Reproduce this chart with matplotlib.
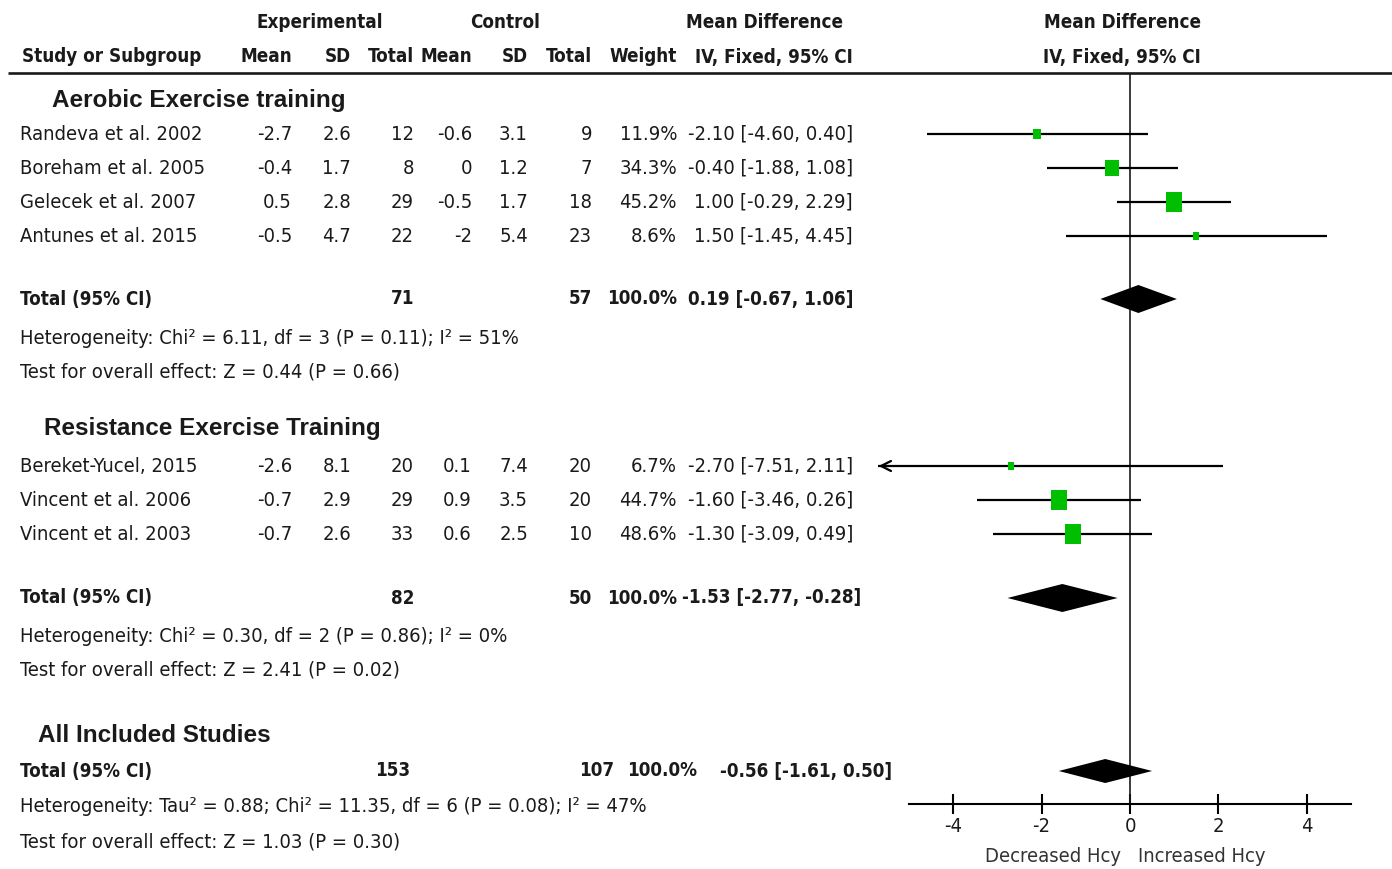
import matplotlib
matplotlib.use("Agg")
import matplotlib.pyplot as plt
import numpy as np

# ----- data -----
aer_studies = ["Randeva et al. 2002", "Boreham et al. 2005", "Gelecek et al. 2007", "Antunes et al. 2015"]
aer_exp_mean = [-2.7, -0.4, 0.5, -0.5]
aer_exp_sd = [2.6, 1.7, 2.8, 4.7]
aer_exp_n = [12, 8, 29, 22]
aer_ctl_mean = [-0.6, 0, -0.5, -2]
aer_ctl_sd = [3.1, 1.2, 1.7, 5.4]
aer_ctl_n = [9, 7, 18, 23]
aer_weight = [11.9, 34.3, 45.2, 8.6]
aer_md = [-2.10, -0.40, 1.00, 1.50]
aer_lo = [-4.60, -1.88, -0.29, -1.45]
aer_hi = [0.40, 1.08, 2.29, 4.45]

res_studies = ["Bereket-Yucel, 2015", "Vincent et al. 2006", "Vincent et al. 2003"]
res_exp_mean = [-2.6, -0.7, -0.7]
res_exp_sd = [8.1, 2.9, 2.6]
res_exp_n = [20, 29, 33]
res_ctl_mean = [0.1, 0.9, 0.6]
res_ctl_sd = [7.4, 3.5, 2.5]
res_ctl_n = [20, 20, 10]
res_weight = [6.7, 44.7, 48.6]
res_md = [-2.70, -1.60, -1.30]
res_lo = [-7.51, -3.46, -3.09]
res_hi = [2.11, 0.26, 0.49]

# pooled: (exp total, ctl total, weight, md, lo, hi)
aer_total = (71, 57, 100.0, 0.19, -0.67, 1.06)
res_total = (82, 50, 100.0, -1.53, -2.77, -0.28)
all_total = (153, 107, 100.0, -0.56, -1.61, 0.50)

aer_het = "Heterogeneity: Chi\u00b2 = 6.11, df = 3 (P = 0.11); I\u00b2 = 51%"
aer_test = "Test for overall effect: Z = 0.44 (P = 0.66)"
res_het = "Heterogeneity: Chi\u00b2 = 0.30, df = 2 (P = 0.86); I\u00b2 = 0%"
res_test = "Test for overall effect: Z = 2.41 (P = 0.02)"
all_het = "Heterogeneity: Tau\u00b2 = 0.88; Chi\u00b2 = 11.35, df = 6 (P = 0.08); I\u00b2 = 47%"
all_test = "Test for overall effect: Z = 1.03 (P = 0.30)"

ticks = [-4, -2, 0, 2, 4]

# ----- style -----
NARROW = "DejaVu Sans"
WIDE = ["Liberation Sans", "DejaVu Sans"]
FS = 14.5
FSB = 13.5
TXT = "#1a1a1a"
GREEN = "#00bf00"

W, H = 1392, 869
fig = plt.figure(figsize=(W / 100, H / 100), dpi=100)
ax = fig.add_axes([0, 0, 1, 1])
ax.set_xlim(0, W)
ax.set_ylim(H, 0)
ax.axis("off")

# column right edges (px)
COLS = [292, 351, 414, 472, 528, 592, 677]
CI_X = 853


def t(x, y, s, ha="left", bold=False, family=NARROW, size=None, color=TXT, stretch="condensed"):
    if size is None:
        size = FSB if bold else FS
    ax.text(x, y, s, ha=ha, va="center", fontsize=size, family=family, fontstretch=stretch,
            fontweight="bold" if bold else "normal", color=color)


def ci_str(md, lo, hi):
    return f"{md:.2f} [{lo:.2f}, {hi:.2f}]"


# header
t(320, 23, "Experimental", ha="center", bold=True)
t(505, 23, "Control", ha="center", bold=True)
t(765, 23, "Mean Difference", ha="center", bold=True)
t(1123, 23, "Mean Difference", ha="center", bold=True)
t(22, 57, "Study or Subgroup", bold=True)
for x, s in zip(COLS, ["Mean", "SD", "Total", "Mean", "SD", "Total", "Weight"]):
    t(x, 57, s, ha="right", bold=True)
t(CI_X, 57, "IV, Fixed, 95% CI", ha="right", bold=True)
t(1122, 57, "IV, Fixed, 95% CI", ha="center", bold=True)
ax.plot([8, W], [73, 73], color=TXT, lw=1.9, solid_capstyle="butt")

# forest axes
fax = fig.add_axes([870 / W, 0, 520 / W, 1])
fax.set_xlim(-5.88, 5.88)
fax.set_ylim(H, 0)
fax.patch.set_alpha(0)
for side in ["top", "left", "right"]:
    fax.spines[side].set_visible(False)
AXIS_Y = 804
fax.spines["bottom"].set_position(("data", AXIS_Y))
fax.spines["bottom"].set_bounds(-5, 5)
fax.spines["bottom"].set_linewidth(1.5)
fax.set_yticks([])
fax.set_xticks(ticks)
fax.set_xticklabels([str(v) for v in ticks], family=NARROW, fontstretch="condensed",
                    fontsize=FS, color=TXT)
fax.tick_params(axis="x", direction="inout", length=14, width=1.5, pad=2)
fax.axvline(0, ymin=1 - AXIS_Y / H, ymax=1 - 74 / H, color=TXT, lw=1.2)

CLIP = -5.7


def study_rows(names, em, es, en, cm, cs, cn, w, md, lo, hi, ys):
    for i, y in enumerate(ys):
        t(20, y, names[i])
        vals = [f"{em[i]:g}", f"{es[i]:g}", str(en[i]), f"{cm[i]:g}", f"{cs[i]:g}",
                str(cn[i]), f"{w[i]:.1f}%"]
        for x, s in zip(COLS, vals):
            t(x, y, s, ha="right")
        t(CI_X, y, ci_str(md[i], lo[i], hi[i]), ha="right")
        left = max(lo[i], CLIP)
        fax.plot([left, hi[i]], [y, y], color="black", lw=1.6, solid_capstyle="butt")
        if lo[i] < CLIP:
            fax.annotate("", xy=(CLIP - 0.05, y), xytext=(CLIP + 0.3, y),
                         arrowprops=dict(arrowstyle="->", color="black", lw=1.6,
                                         mutation_scale=18))
        side = 2.9 * np.sqrt(w[i])
        fax.plot(md[i], y, marker=[(-0.8, -1), (0.8, -1), (0.8, 1), (-0.8, 1)],
                 markersize=side * 0.72, color=GREEN, markeredgewidth=0, zorder=3)


def total_row(y, tot, xs, half=13):
    en, cn, w, md, lo, hi = tot
    t(20, y, "Total (95% CI)", bold=True)
    t(xs[0], y, str(en), ha="right", bold=True)
    t(xs[1], y, str(cn), ha="right", bold=True)
    t(xs[2], y, f"{w:.1f}%", ha="right", bold=True)
    t(xs[3], y, ci_str(md, lo, hi), ha="right", bold=True)
    fax.fill([lo, md, hi, md], [y, y - half, y, y + half], color="black", lw=0, zorder=3)


# aerobic subgroup
t(52, 101, "Aerobic Exercise training", bold=True, family=WIDE, size=17.5, stretch="normal")
study_rows(aer_studies, aer_exp_mean, aer_exp_sd, aer_exp_n, aer_ctl_mean, aer_ctl_sd,
           aer_ctl_n, aer_weight, aer_md, aer_lo, aer_hi, [134, 168, 202, 236])
total_row(299, aer_total, [414, 592, 677, 853], half=14)
t(20, 338, aer_het)
t(20, 372, aer_test)

# resistance subgroup
t(44, 428, "Resistance Exercise Training", bold=True, family=WIDE, size=17.5, stretch="normal")
study_rows(res_studies, res_exp_mean, res_exp_sd, res_exp_n, res_ctl_mean, res_ctl_sd,
           res_ctl_n, res_weight, res_md, res_lo, res_hi, [466, 500, 534])
total_row(598, res_total, [414, 592, 677, 861], half=14)
t(20, 636, res_het)
t(20, 670, res_test)

# all studies
t(38, 736, "All Included Studies", bold=True, family=WIDE, size=17.5, stretch="normal")
total_row(771, all_total, [410, 614, 697, 892], half=12)
t(20, 807, all_het)
t(20, 842, all_test)

t(1121, 856, "Decreased Hcy", ha="right", color="#333333")
t(1138, 856, "Increased Hcy", ha="left", color="#333333")

fig.savefig("out.png", dpi=100)
